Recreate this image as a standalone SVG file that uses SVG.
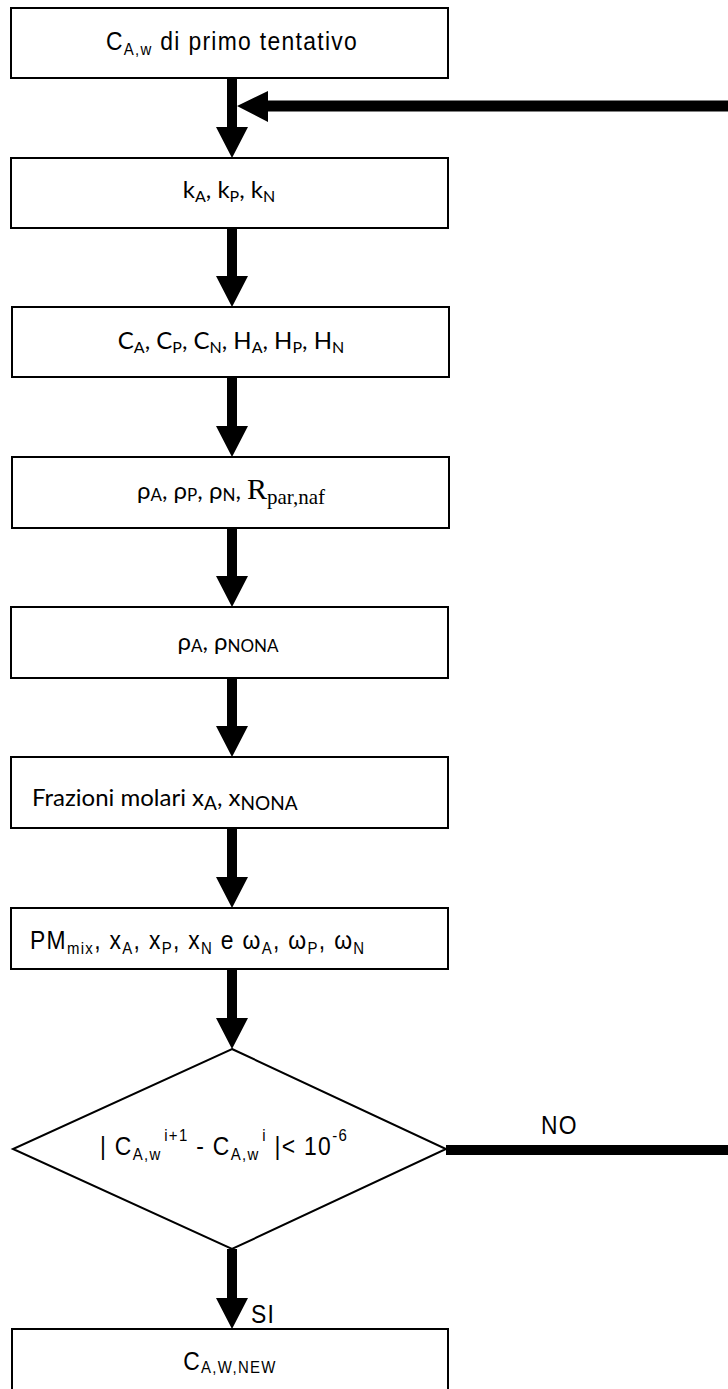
<svg xmlns="http://www.w3.org/2000/svg" width="728" height="1389" viewBox="0 0 728 1389">
<style>
.box{fill:#fff;stroke:#000;stroke-width:2}
.n{font-family:"Liberation Sans",Arial,sans-serif;font-size:26px;letter-spacing:1.5px;fill:#000}
.c{font-family:Lato,"Open Sans",sans-serif;font-size:24px;fill:#000}
.s{font-family:"Liberation Serif",serif;fill:#000}
.ar{fill:#000}
</style>
<rect x="0" y="0" width="728" height="1389" fill="#fff"/>
<g id="connectors">
<path class="ar" d="M227,78 V127 H216 L232,158 L248,127 H237 V78 Z"/>
<path class="ar" d="M227,228 V276 H216 L232,307 L248,276 H237 V228 Z"/>
<path class="ar" d="M227,377 V426 H216 L232,457 L248,426 H237 V377 Z"/>
<path class="ar" d="M227,528 V576 H216 L232,607 L248,576 H237 V528 Z"/>
<path class="ar" d="M227,678 V726 H216 L232,757 L248,726 H237 V678 Z"/>
<path class="ar" d="M227,828 V877 H216 L232,908 L248,877 H237 V828 Z"/>
<path class="ar" d="M227,969 V1018 H216 L232,1049 L248,1018 H237 V969 Z"/>
<path class="ar" d="M227,1249 V1298 H216 L232,1329 L248,1298 H237 V1249 Z"/>
<path class="ar" d="M728,100.5 H268 V91 L237,106 L268,122 V111.5 H728 Z"/>
<rect class="ar" x="446" y="1145" width="282" height="10"/>
<text class="n" transform="translate(541,1134) scale(0.88,1)">NO</text>
<text class="n" letter-spacing="0" transform="translate(251,1323) scale(0.88,1)">SI</text>
</g>
<g id="n1">
<rect class="box" x="11" y="8" width="437" height="70"/>
<text class="n" text-anchor="middle" transform="translate(232,50) scale(0.88,1)">C<tspan font-size="17" dy="5">A,w</tspan><tspan dy="-5"> di primo tentativo</tspan></text>
</g>
<g id="n2">
<rect class="box" x="11" y="158" width="437" height="70"/>
<text class="c" x="229" y="198" text-anchor="middle">k<tspan font-size="16" dy="4">A</tspan><tspan dy="-4">, k</tspan><tspan font-size="16" dy="4">P</tspan><tspan dy="-4">, k</tspan><tspan font-size="16" dy="4">N</tspan></text>
</g>
<g id="n3">
<rect class="box" x="12" y="307" width="437" height="70"/>
<text class="c" x="231" y="349" text-anchor="middle">C<tspan font-size="16" dy="4">A</tspan><tspan dy="-4">, C</tspan><tspan font-size="16" dy="4">P</tspan><tspan dy="-4">, C</tspan><tspan font-size="16" dy="4">N</tspan><tspan dy="-4">, H</tspan><tspan font-size="16" dy="4">A</tspan><tspan dy="-4">, H</tspan><tspan font-size="16" dy="4">P</tspan><tspan dy="-4">, H</tspan><tspan font-size="16" dy="4">N</tspan></text>
</g>
<g id="n4">
<rect class="box" x="12" y="457" width="437" height="71"/>
<text class="c" font-size="27" x="231" y="499" text-anchor="middle">ρ<tspan font-size="17" dy="2">A</tspan><tspan dy="-2">, ρ</tspan><tspan font-size="17" dy="2">P</tspan><tspan dy="-2">, ρ</tspan><tspan font-size="17" dy="2">N</tspan><tspan dy="-2">, </tspan><tspan class="s" font-size="30">R</tspan><tspan class="s" font-size="21" dy="5">par,naf</tspan></text>
</g>
<g id="n5">
<rect class="box" x="11" y="607" width="437" height="71"/>
<text class="c" font-size="27" x="228" y="650" text-anchor="middle">ρ<tspan font-size="17" dy="2">A</tspan><tspan dy="-2">, ρ</tspan><tspan font-size="17" dy="2">NONA</tspan></text>
</g>
<g id="n6">
<rect class="box" x="11" y="757" width="437" height="71"/>
<text class="c" font-size="28" x="32" y="806">Frazioni molari x<tspan font-size="19" dy="4">A</tspan><tspan dy="-4">, x</tspan><tspan font-size="19" dy="4">NONA</tspan></text>
</g>
<g id="n7">
<rect class="box" x="11" y="908" width="437" height="61"/>
<text class="n" transform="translate(30,949) scale(0.88,1)">PM<tspan font-size="17" dy="5">mix</tspan><tspan dy="-5">, x</tspan><tspan font-size="17" dy="5">A</tspan><tspan dy="-5">, x</tspan><tspan font-size="17" dy="5">P</tspan><tspan dy="-5">, x</tspan><tspan font-size="17" dy="5">N</tspan><tspan dy="-5"> e ω</tspan><tspan font-size="17" dy="5">A</tspan><tspan dy="-5">, ω</tspan><tspan font-size="17" dy="5">P</tspan><tspan dy="-5">, ω</tspan><tspan font-size="17" dy="5">N</tspan></text>
</g>
<g id="n8">
<polygon class="box" points="232,1049 446,1149 232,1249 13,1149" stroke-width="1.5"/>
<text class="n" text-anchor="middle" transform="translate(224,1155) scale(0.88,1)">| C<tspan font-size="17" dy="5">A,w</tspan><tspan font-size="17" dy="-19" dx="3">i+1</tspan><tspan dy="14"> - C</tspan><tspan font-size="17" dy="5">A,w</tspan><tspan font-size="17" dy="-19" dx="3">i</tspan><tspan dy="14"> |&lt; 10</tspan><tspan font-size="17" dy="-14">-6</tspan></text>
</g>
<g id="n9">
<rect class="box" x="12" y="1329" width="436" height="80"/>
<text class="n" text-anchor="middle" transform="translate(230,1370) scale(0.88,1)">C<tspan font-size="17" dy="3">A,W,NEW</tspan></text>
</g>
</svg>
